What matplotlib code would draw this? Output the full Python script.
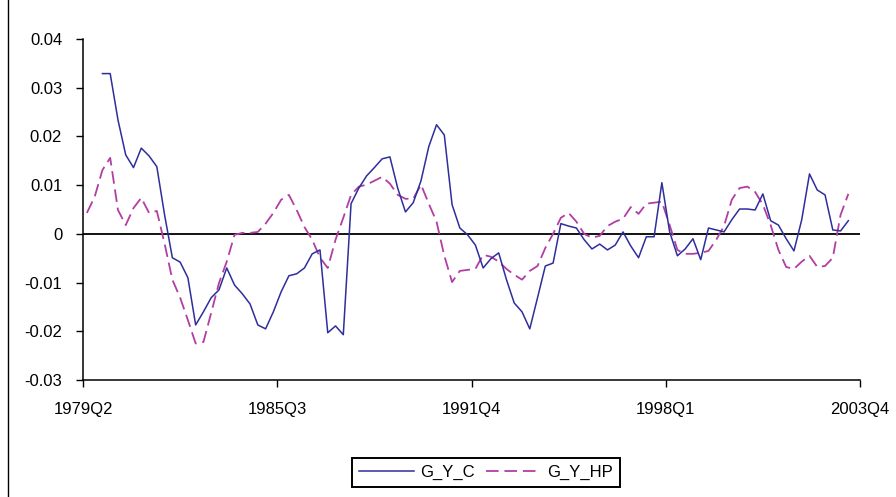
import numpy as np
import matplotlib
matplotlib.use("Agg")
import matplotlib.pyplot as plt
from matplotlib.lines import Line2D

plt.rcParams['font.family'] = ['Liberation Sans', 'DejaVu Sans']

# quarterly series, 1979Q2 .. 2003Q4 (G_Y_C starts two quarters later)
quarters = np.arange(99)
g_y_c = [np.nan, np.nan,
         0.0329, 0.0329, 0.0234, 0.0162, 0.0136, 0.0176, 0.0160, 0.0138,
         0.0039, -0.0049, -0.0058, -0.0090, -0.0187, -0.0160, -0.0131, -0.0115, -0.0070, -0.0105,
         -0.0123, -0.0144, -0.0187, -0.0195, -0.0160, -0.0119, -0.0086, -0.0082, -0.0070, -0.0041,
         -0.0033, -0.0203, -0.0189, -0.0207, 0.0062, 0.0094, 0.0119, 0.0136, 0.0154, 0.0158,
         0.0094, 0.0045, 0.0064, 0.0109, 0.0179, 0.0224, 0.0203, 0.0060, 0.0012, -0.0002,
         -0.0023, -0.0070, -0.0051, -0.0039, -0.0094, -0.0142, -0.0160, -0.0195, -0.0131, -0.0066,
         -0.0060, 0.0021, 0.0016, 0.0012, -0.0012, -0.0031, -0.0021, -0.0033, -0.0023, 0.0004,
         -0.0025, -0.0049, -0.0006, -0.0006, 0.0105, 0.0004, -0.0045, -0.0031, -0.0010, -0.0053,
         0.0012, 0.0008, 0.0004, 0.0029, 0.0051, 0.0051, 0.0049, 0.0082, 0.0027, 0.0018,
         -0.0010, -0.0035, 0.0029, 0.0123, 0.0090, 0.0080, 0.0008, 0.0006, 0.0027]
g_y_hp = [0.0043, 0.0076, 0.0131, 0.0156, 0.0049, 0.0018, 0.0053, 0.0074, 0.0043, 0.0047,
          -0.0020, -0.0094, -0.0131, -0.0177, -0.0225, -0.0222, -0.0162, -0.0101, -0.0057, -0.0002,
          0.0002, 0.0002, 0.0004, 0.0021, 0.0043, 0.0070, 0.0080, 0.0049, 0.0014, -0.0012,
          -0.0049, -0.0070, -0.0012, 0.0033, 0.0080, 0.0097, 0.0101, 0.0109, 0.0117, 0.0103,
          0.0080, 0.0072, 0.0072, 0.0101, 0.0062, 0.0025, -0.0045, -0.0099, -0.0076, -0.0074,
          -0.0072, -0.0043, -0.0047, -0.0057, -0.0072, -0.0084, -0.0094, -0.0076, -0.0066, -0.0029,
          0.0000, 0.0033, 0.0043, 0.0025, 0.0000, -0.0008, -0.0004, 0.0016, 0.0025, 0.0031,
          0.0055, 0.0041, 0.0062, 0.0064, 0.0066, 0.0018, -0.0033, -0.0041, -0.0041, -0.0039,
          -0.0035, -0.0012, 0.0016, 0.0070, 0.0094, 0.0097, 0.0086, 0.0060, 0.0018, -0.0033,
          -0.0068, -0.0072, -0.0057, -0.0045, -0.0068, -0.0066, -0.0049, 0.0039, 0.0082]

tick_pos = [-0.5, 24.5, 49.5, 74.5, 99.5]
tick_labels = ["1979Q2", "1985Q3", "1991Q4", "1998Q1", "2003Q4"]
y_ticks = [-0.03, -0.02, -0.01, 0, 0.01, 0.02, 0.03, 0.04]
y_labels = ["-0.03", "-0.02", "-0.01", "0", "0.01", "0.02", "0.03", "0.04"]

fig = plt.figure(figsize=(8.96, 4.97), dpi=100)
ax = fig.add_axes([83 / 896, 1 - 380 / 497, (860 - 83) / 896, (380 - 39) / 497])

ax.axhline(0, color="black", lw=1.3, zorder=1)
ax.plot(quarters, g_y_c, color="#2e2e9c", lw=1.1, label="G_Y_C", zorder=3)
ax.plot(quarters, g_y_hp, color="#b23ea3", lw=1.3, linestyle=(0, (7, 3.2)),
        label="G_Y_HP", zorder=2)

ax.set_xlim(-0.5, 99.5)
ax.set_ylim(-0.03, 0.04)
ax.set_xticks(tick_pos)
ax.set_xticklabels(tick_labels)
ax.set_yticks(y_ticks)
ax.set_yticklabels(y_labels)
for s in ["top", "right"]:
    ax.spines[s].set_visible(False)
for s in ["left", "bottom"]:
    ax.spines[s].set_linewidth(1.1)
ax.tick_params(axis="y", direction="out", length=5, width=1, pad=10, labelsize=12)
ax.tick_params(axis="x", direction="out", length=5, width=1, pad=11, labelsize=12)

leg = fig.legend(loc="center", bbox_to_anchor=(486 / 896, 1 - 472.5 / 497), ncol=2,
                 frameon=True, fancybox=False, edgecolor="black", framealpha=1,
                 fontsize=12, handlelength=3.3, columnspacing=0.7, handletextpad=0.35,
                 borderpad=0.4, borderaxespad=0)
leg.get_frame().set_linewidth(1.4)

# chart area border (only the left edge is inside the picture)
fig.add_artist(Line2D([8 / 896, 8 / 896], [0, 1], color="black", lw=1.0))

fig.savefig("out.png", dpi=100)
